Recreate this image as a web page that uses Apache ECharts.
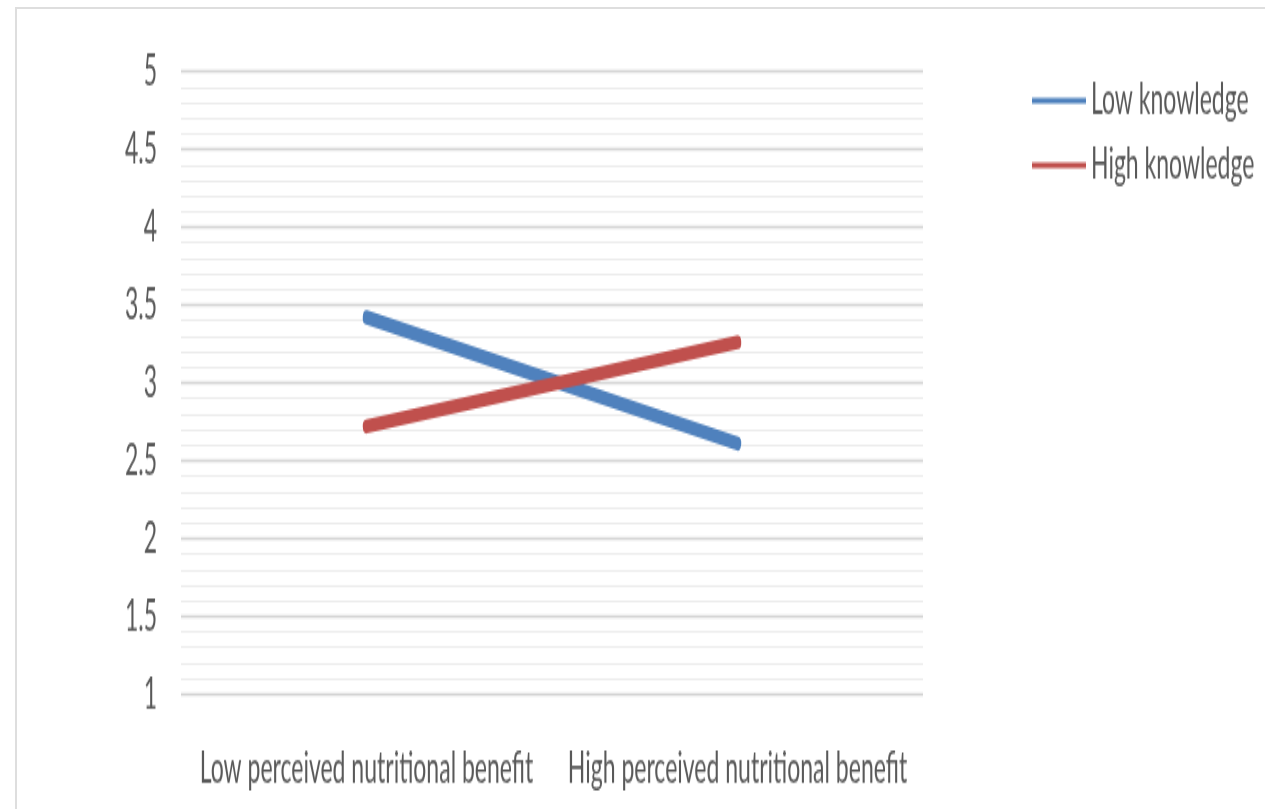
<!DOCTYPE html>
<html>
<head>
<meta charset="utf-8">
<script src="https://cdn.jsdelivr.net/npm/echarts@6/dist/echarts.min.js"></script>
<style>
  html, body { margin: 0; padding: 0; background: #fff; overflow: hidden; }
  #frame { position: absolute; left: 15px; top: 7px; width: 1400px; height: 1000px;
           border-left: 2px solid #dedede; border-top: 2px solid #dedede; }
  #chart { position: absolute; left: 0; top: 0; width: 1265px; height: 426px;
           transform: scaleY(1.9); transform-origin: 0 0; }
</style>
</head>
<body>
<div id="frame"></div>
<div id="chart"></div>
<script>
const categories = ["Low perceived nutritional benefit", "High perceived nutritional benefit"];
const lowKnowledge = [3.42, 2.61];
const highKnowledge = [2.72, 3.26];
const yTicks = { min: 1, max: 5, interval: 0.5 };

const FONT = "Lato";
const TXT = "#595959";

const chart = echarts.init(document.getElementById('chart'));
chart.setOption({
  animation: false,
  grid: { left: 181, right: 342, top: 37.6, bottom: 60.7, containLabel: false },
  legend: {
    orient: 'vertical',
    left: 1027,
    top: 36.5,
    itemGap: 11,
    itemWidth: 54,
    itemHeight: 3,
    icon: 'rect',
    textStyle: { fontFamily: FONT, fontSize: 23, color: TXT },
    data: ['Low knowledge', 'High knowledge']
  },
  xAxis: {
    type: 'category',
    data: categories,
    boundaryGap: true,
    axisLine: { show: false },
    axisTick: { show: false },
    axisLabel: { interval: 0, margin: 28, fontFamily: FONT, fontSize: 23, color: TXT }
  },
  yAxis: {
    type: 'value',
    min: yTicks.min,
    max: yTicks.max,
    interval: yTicks.interval,
    axisLine: { show: false },
    axisTick: { show: false },
    axisLabel: { margin: 24, fontFamily: FONT, fontSize: 23, color: TXT },
    splitLine: { show: true, lineStyle: { color: '#d4d4d4', width: 1.4 } },
    minorTick: { show: false, splitNumber: 5 },
    minorSplitLine: { show: true, lineStyle: { color: '#ececec', width: 1 } }
  },
  series: [
    {
      name: 'Low knowledge',
      type: 'line',
      data: lowKnowledge,
      symbol: 'none',
      itemStyle: { color: '#4f81bd' },
      lineStyle: { color: '#4f81bd', width: 7.5, cap: 'round' }
    },
    {
      name: 'High knowledge',
      type: 'line',
      data: highKnowledge,
      symbol: 'none',
      itemStyle: { color: '#c0504d' },
      lineStyle: { color: '#c0504d', width: 7.5, cap: 'round' }
    }
  ]
});
</script>
</body>
</html>
